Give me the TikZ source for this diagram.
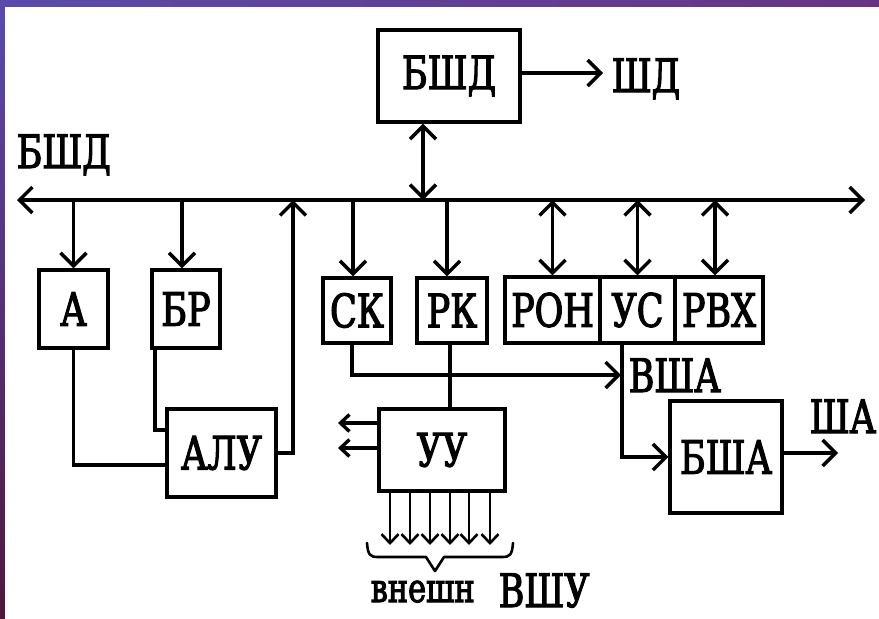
\documentclass[tikz,border=0pt]{standalone}
\usepackage{fontspec}
\setmainfont{DejaVu Serif}[FakeStretch=0.76,FakeBold=2.5]
\usetikzlibrary{arrows.meta}
\definecolor{bgtop}{RGB}{90,75,170}
\definecolor{bgbot}{RGB}{78,24,60}
\definecolor{bgright}{RGB}{104,52,130}
\begin{document}
\begin{tikzpicture}[x=1pt,y=-1pt,line width=3.4pt,
  >={Straight Barb[length=13pt,width=26pt]},
  sarr/.style={-{Straight Barb[length=9pt,width=17pt]}},
  box/.style={draw,line width=3.4pt,inner sep=0pt,font=\fontsize{46}{46}\selectfont},
  lbl/.style={inner sep=0pt,text depth=0pt,font=\fontsize{46}{46}\selectfont},
  small/.style={inner sep=0pt,text depth=0pt,font=\fontsize{40}{40}\selectfont}]
\useasboundingbox (0,0) rectangle (879,619);
% background
\shade[top color=bgtop,bottom color=bgbot,line width=0pt] (0,0) rectangle (879,619);
\shade[left color=bgtop,right color=bgright,line width=0pt] (0,0) rectangle (879,7);
\fill[white] (5,7) rectangle (879,619);
% boxes
\node[box,minimum width=142pt,minimum height=92pt] (bshd) at (449,76) {БШД};
\node[box,minimum width=69pt,minimum height=78pt] (A) at (73.5,309) {А};
\node[box,minimum width=68pt,minimum height=78pt] (BR) at (186,309) {БР};
\node[box,minimum width=68pt,minimum height=65pt] (SK) at (357,310.5) {СК};
\node[box,minimum width=70pt,minimum height=65pt] (RK) at (452,310.5) {РК};
\node[box,minimum width=95pt,minimum height=66pt] (RON) at (552.5,310) {РОН};
\node[box,minimum width=75pt,minimum height=66pt] (US) at (637.5,310) {УС};
\node[box,minimum width=88pt,minimum height=66pt] (RVX) at (719,310) {РВХ};
\node[box,minimum width=109pt,minimum height=88pt] (ALU) at (221.5,453) {АЛУ};
\node[box,minimum width=126pt,minimum height=82pt] (UU) at (442,450) {УУ};
\node[box,minimum width=112pt,minimum height=112pt] (BSHA) at (726,457) {БША};
% labels
\node[lbl,anchor=base west] (lbus) at (15,168) {БШД};
\node[lbl,anchor=base west] (lshd) at (610,92) {ШД};
\node[lbl,anchor=base west] (lvsha) at (627,392) {ВША};
\node[lbl,anchor=base west] (lsha) at (808,433) {ША};
\node[small,anchor=base west] (lvn) at (369,602) {внешн};
\node[lbl,anchor=base west] (lvshu) at (497,607) {ВШУ};
% bus
\coordinate (busL) at (17,200);
\coordinate (busR) at (865,200);
\draw[<->] (busL) -- (busR);
\coordinate (shdEnd) at (603,73);
\draw[->] (bshd.east |- shdEnd) -- (shdEnd);
\coordinate (bshdC) at (423,200);
\draw[<->] (bshdC |- bshd.south) -- (bshdC);
\draw[->] (A.north |- busL) -- (A.north);
\draw[->] ([xshift=-4pt]BR.north |- busL) -- ([xshift=-4pt]BR.north);
\draw[->] ([xshift=-4pt]SK.north |- busL) -- ([xshift=-4pt]SK.north);
\draw[->] ([xshift=-5pt]RK.north |- busL) -- ([xshift=-5pt]RK.north);
\draw[<->] (RON.north |- busL) -- (RON.north);
\draw[<->] (US.north |- busL) -- (US.north);
\draw[<->] ([xshift=-4pt]RVX.north |- busL) -- ([xshift=-4pt]RVX.north);
\coordinate (aluBus) at (293,200);
\draw[->] (ALU.east) -| (aluBus);
% A, BR to ALU
\draw (A.south) |- ([yshift=-12pt]ALU.west);
\draw ([xshift=-31pt]BR.south) |- ([yshift=23pt]ALU.west);
% SK, US, RK
\coordinate (vsha) at (621,375);
\draw[->] ([xshift=-5pt]SK.south) |- (vsha);
\draw[->] ([xshift=-15.5pt]US.south) |- (BSHA.west);
\draw ([xshift=-2pt]RK.south) -- ([xshift=-2pt]RK.south |- UU.north);
% BSHA output
\coordinate (shaEnd) at (838,453);
\draw[->] (BSHA.east |- shaEnd) -- (shaEnd);
% UU outputs
\coordinate (uo1) at (338,423);
\coordinate (uo2) at (338,448);
\draw[sarr] (UU.west |- uo1) -- (uo1);
\draw[sarr] (UU.west |- uo2) -- (uo2);
\foreach \x [count=\i] in {390,410,430,450,469,490}{
  \coordinate (ud\i) at (\x,545);
  \draw[sarr,line width=2.6pt] (UU.south -| ud\i) -- (ud\i);
}
% brace
\draw[line width=2.6pt,line cap=round,line join=round] (367,543) .. controls (368,555) and (370,557) .. (378,557) -- (426,557) -- (435,571) -- (444,557) -- (502,557) .. controls (510,557) and (512,555) .. (513,543);
\end{tikzpicture}
\end{document}
